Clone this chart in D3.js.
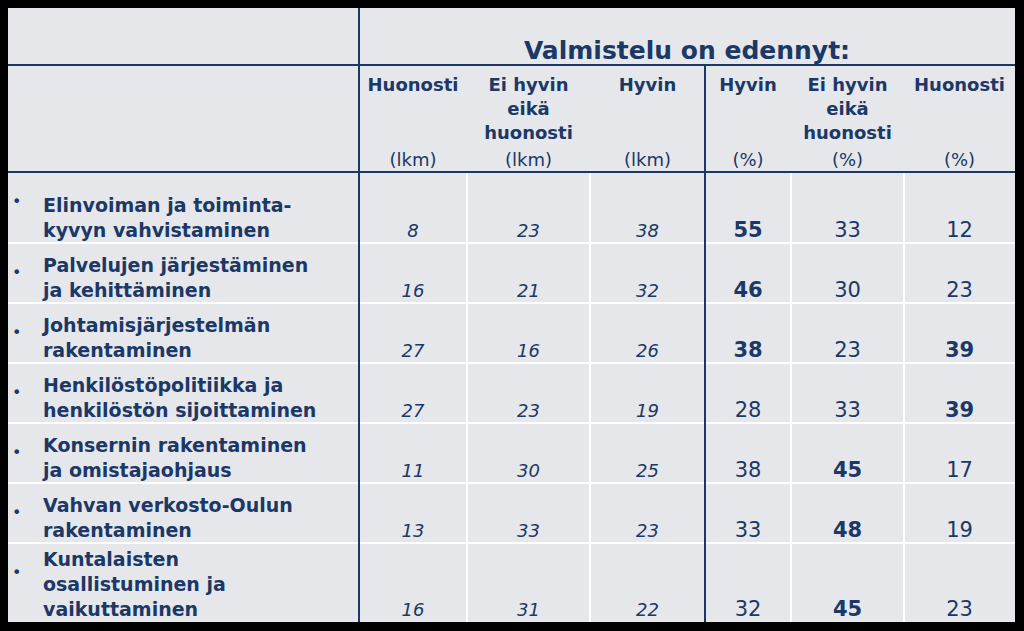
<!DOCTYPE html><html><head><meta charset="utf-8"><script src="https://cdn.jsdelivr.net/npm/d3@7"></script>
<style>body{margin:0;background:#000}</style></head><body><svg id="c" width="1024" height="631"></svg>
<script>
const title = "Valmistelu on edennyt:";
const headers = [["Huonosti"],["Ei hyvin","eikä","huonosti"],["Hyvin"],["Hyvin"],["Ei hyvin","eikä","huonosti"],["Huonosti"]];
const units = ["(lkm)","(lkm)","(lkm)","(%)","(%)","(%)"];
const categories = [["Elinvoiman ja toiminta-","kyvyn vahvistaminen"],["Palvelujen järjestäminen","ja kehittäminen"],["Johtamisjärjestelmän","rakentaminen"],["Henkilöstöpolitiikka ja","henkilöstön sijoittaminen"],["Konsernin rakentaminen","ja omistajaohjaus"],["Vahvan verkosto-Oulun","rakentaminen"],["Kuntalaisten","osallistuminen ja","vaikuttaminen"]];
const huonostiLkm = [8,16,27,27,11,13,16];
const eiLkm = [23,21,16,23,30,33,31];
const hyvinLkm = [38,32,26,19,25,23,22];
const hyvinPct = [55,46,38,28,38,33,32];
const eiPct = [33,30,23,33,45,48,45];
const huonostiPct = [12,23,39,39,17,19,23];
const boldHyvin = [1,1,1,0,0,0,0], boldEi=[0,0,0,0,1,1,1], boldHuon=[0,0,1,1,0,0,0];

const svg=d3.select("#c"), blue="#1b3866", font="DejaVu Sans, Verdana, sans-serif";
const L=8,R=1015,T=8,B=622;
svg.append("rect").attr("x",L).attr("y",T).attr("width",R-L).attr("height",B-T).attr("fill","#e6e7ea");
const colEdges=[359,467,590,705,791,904,1015];
const rowEdges=[172,243,303,363,423,483,543,622];
// white grid
[467,590,791,904].forEach(x=>svg.append("line").attr("x1",x).attr("x2",x).attr("y1",172).attr("y2",B).attr("stroke","#fff").attr("stroke-width",2));
rowEdges.slice(1,-1).forEach(y=>svg.append("line").attr("x1",L).attr("x2",R).attr("y1",y).attr("y2",y).attr("stroke","#fff").attr("stroke-width",2));
// blue lines
[65,172].forEach(y=>svg.append("line").attr("x1",L).attr("x2",R).attr("y1",y).attr("y2",y).attr("stroke",blue).attr("stroke-width",2));
svg.append("line").attr("x1",359).attr("x2",359).attr("y1",T).attr("y2",B).attr("stroke",blue).attr("stroke-width",2);
svg.append("line").attr("x1",705).attr("x2",705).attr("y1",65).attr("y2",B).attr("stroke",blue).attr("stroke-width",2);
svg.append("text").attr("x",687).attr("y",59).attr("text-anchor","middle").attr("font-family",font).attr("font-weight","bold").attr("font-size",25).attr("fill",blue).text(title);
const cx=i=>(colEdges[i]+colEdges[i+1])/2;
headers.forEach((h,i)=>{h.forEach((t,j)=>svg.append("text").attr("x",cx(i)).attr("y",91+j*24).attr("text-anchor","middle").attr("font-family",font).attr("font-weight","bold").attr("font-size",18).attr("fill",blue).text(t));
 svg.append("text").attr("x",cx(i)).attr("y",166).attr("text-anchor","middle").attr("font-family",font).attr("font-size",18).attr("fill",blue).text(units[i]);});
const cols=[[huonostiLkm,null,true],[eiLkm,null,true],[hyvinLkm,null,true],[hyvinPct,boldHyvin,false],[eiPct,boldEi,false],[huonostiPct,boldHuon,false]];
categories.forEach((c,r)=>{
 const base=rowEdges[r+1]-6;
 svg.append("text").attr("x",12).attr("y",rowEdges[r]+35).attr("font-family",font).attr("font-size",16).attr("fill",blue).text("•");
 c.forEach((t,j)=>svg.append("text").attr("x",43).attr("y",base-(c.length-1-j)*25).attr("font-family",font).attr("font-weight","bold").attr("font-size",19).attr("fill",blue).text(t));
 cols.forEach(([arr,b,it],i)=>svg.append("text").attr("x",cx(i)).attr("y",base).attr("text-anchor","middle").attr("font-family",font).attr("font-size",it?18:21).attr("font-style",it?"italic":"normal").attr("font-weight",b&&b[r]?"bold":"normal").attr("fill",blue).text(arr[r]));
});
</script></body></html>
